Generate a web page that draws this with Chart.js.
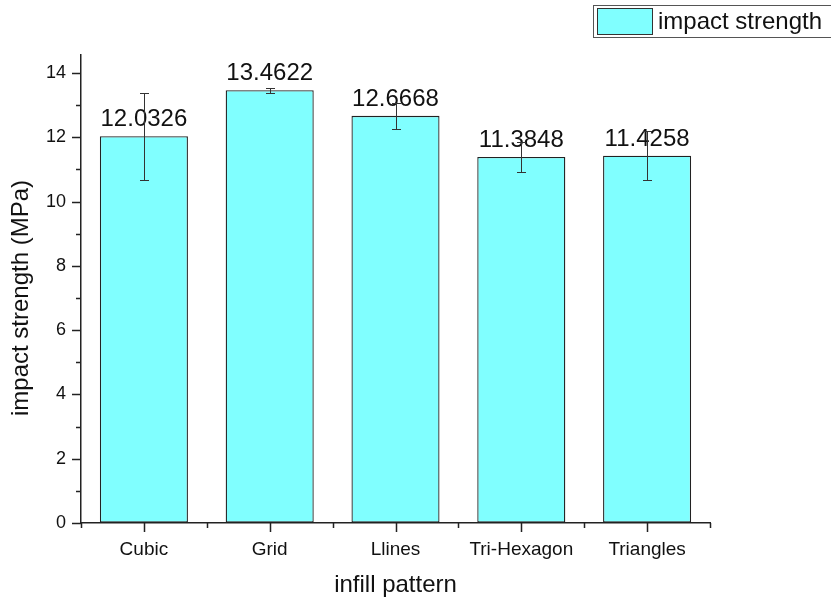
<!DOCTYPE html>
<html>
<head>
<meta charset="utf-8">
<script src="https://cdn.jsdelivr.net/npm/chart.js@4.4.1/dist/chart.umd.min.js"></script>
<style>
  html, body { margin: 0; padding: 0; background: #fff; }
  #wrap { width: 831px; height: 600px; }
</style>
</head>
<body>
<div id="wrap"><canvas id="c" width="831" height="600"></canvas></div>
<script>
// infill patterns and measured impact strength
const categories = ['Cubic', 'Grid', 'Llines', 'Tri-Hexagon', 'Triangles'];
const strength = [12.0326, 13.4622, 12.6668, 11.3848, 11.4258];
const strengthErr = [1.36, 0.08, 0.40, 0.46, 0.76];
const yMajorTicks = [0, 2, 4, 6, 8, 10, 12, 14];
const yMinorTicks = [1, 3, 5, 7, 9, 11, 13];

const FONT = "'Liberation Sans', Arial, sans-serif";
const AXIS = '#222';
const FILL = '#80FFFF';

// tick marks (major/minor), y title, value labels, error bars and legend box
const decorations = {
  id: 'decorations',
  afterDatasetsDraw(chart) {
    const ctx = chart.ctx;
    const xs = chart.scales.x, ys = chart.scales.y;
    const bottom = chart.chartArea.bottom, left = chart.chartArea.left;
    ctx.save();
    ctx.strokeStyle = AXIS;
    ctx.lineWidth = 1.5;
    ctx.beginPath();
    yMajorTicks.forEach(v => { const y = Math.round(ys.getPixelForValue(v)) + 0.5; ctx.moveTo(left - 9, y); ctx.lineTo(left, y); });
    yMinorTicks.forEach(v => { const y = Math.round(ys.getPixelForValue(v)) + 0.5; ctx.moveTo(left - 5, y); ctx.lineTo(left, y); });
    categories.forEach((c, i) => {
      const x = Math.round(xs.getPixelForValue(i)) + 0.5;
      ctx.moveTo(x, bottom); ctx.lineTo(x, bottom + 9);
    });
    for (let i = 0; i <= categories.length; i++) {
      const x = Math.round(xs.getPixelForValue(i - 0.5)) + 0.5;
      ctx.moveTo(x, bottom); ctx.lineTo(x, bottom + 5);
    }
    ctx.stroke();

    // y axis title
    ctx.save();
    ctx.translate(21, 298);
    ctx.rotate(-Math.PI / 2);
    ctx.fillStyle = '#111';
    ctx.font = '24px ' + FONT;
    ctx.textAlign = 'center';
    ctx.textBaseline = 'middle';
    ctx.fillText('impact strength (MPa)', 0, 0);
    ctx.restore();

    const meta = chart.getDatasetMeta(0);
    // value labels
    ctx.fillStyle = '#111';
    ctx.font = '24px ' + FONT;
    ctx.textAlign = 'center';
    ctx.textBaseline = 'alphabetic';
    meta.data.forEach((bar, i) => {
      ctx.fillText(strength[i].toFixed(4), bar.x, bar.y - 10);
    });
    // error bars
    ctx.strokeStyle = '#333';
    ctx.lineWidth = 1;
    meta.data.forEach((bar, i) => {
      const x = Math.round(bar.x) + 0.5;
      const yTop = Math.round(ys.getPixelForValue(strength[i] + strengthErr[i])) + 0.5;
      const yBot = Math.round(ys.getPixelForValue(strength[i] - strengthErr[i])) + 0.5;
      ctx.beginPath();
      ctx.moveTo(x, yTop); ctx.lineTo(x, yBot);
      ctx.moveTo(x - 4.5, yTop); ctx.lineTo(x + 4.5, yTop);
      ctx.moveTo(x - 4.5, yBot); ctx.lineTo(x + 4.5, yBot);
      ctx.stroke();
    });

    // legend
    ctx.strokeStyle = '#555';
    ctx.lineWidth = 1;
    ctx.strokeRect(593.5, 5.5, 240, 32);
    ctx.fillStyle = FILL;
    ctx.fillRect(597.5, 8.5, 55, 26);
    ctx.strokeStyle = '#333';
    ctx.strokeRect(597.5, 8.5, 55, 26);
    ctx.fillStyle = '#111';
    ctx.font = '24px ' + FONT;
    ctx.textAlign = 'left';
    ctx.textBaseline = 'middle';
    ctx.fillText('impact strength', 658, 22);
    ctx.restore();
  }
};

new Chart(document.getElementById('c'), {
  type: 'bar',
  data: {
    labels: categories,
    datasets: [{
      label: 'impact strength',
      data: strength,
      backgroundColor: FILL,
      borderColor: '#222',
      borderWidth: 1.3,
      borderSkipped: false,
      barPercentage: 0.7,
      categoryPercentage: 1.0
    }]
  },
  options: {
    responsive: false,
    animation: false,
    devicePixelRatio: 1,
    layout: { padding: { top: 55, right: 121, left: 0, bottom: 0 } },
    plugins: { legend: { display: false }, tooltip: { enabled: false } },
    scales: {
      x: {
        afterFit(s) { s.height = 77; },
        grid: { display: true, drawOnChartArea: false, drawTicks: false },
        border: { display: true, color: AXIS, width: 1.5 },
        ticks: { color: '#111', font: { family: FONT, size: 19 }, padding: 15, maxRotation: 0 },
        title: { display: true, text: 'infill pattern', color: '#111', font: { family: FONT, size: 24 }, padding: { top: 0, bottom: 0 } }
      },
      y: {
        min: 0,
        max: 14.56,
        afterFit(s) { s.width = 81; },
        afterBuildTicks(s) { s.ticks = yMajorTicks.map(v => ({ value: v })); },
        grid: { display: true, drawOnChartArea: false, drawTicks: false },
        border: { display: true, color: AXIS, width: 1.5 },
        ticks: {
          autoSkip: false,
          color: '#111',
          font: { family: FONT, size: 18 },
          padding: 15,
          callback: v => String(v)
        },
        title: { display: false }
      }
    }
  },
  plugins: [decorations]
});
</script>
</body>
</html>
